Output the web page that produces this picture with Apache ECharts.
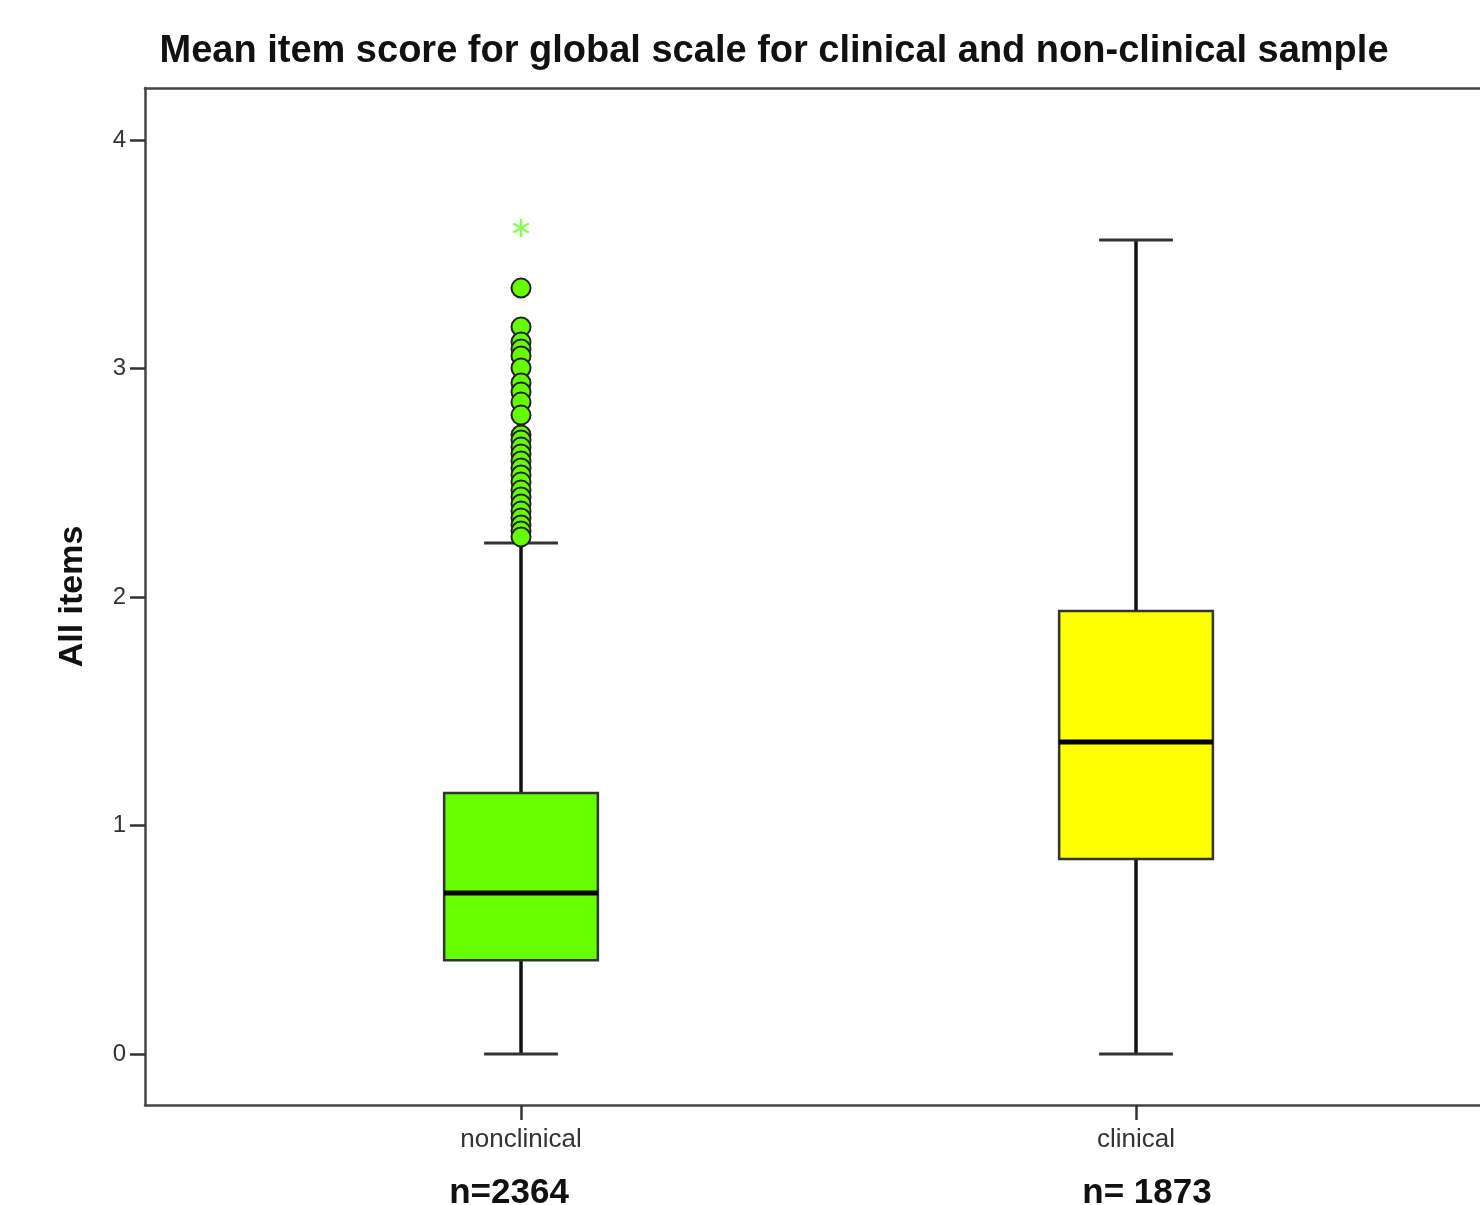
<!DOCTYPE html>
<html>
<head>
<meta charset="utf-8">
<script src="https://cdn.jsdelivr.net/npm/echarts@6/dist/echarts.min.js"></script>
<style>
  html, body { margin: 0; padding: 0; background: #ffffff; }
  #chart { width: 1480px; height: 1205px; }
</style>
</head>
<body>
<div id="chart"></div>
<script>
// ---- data ----
var categories = ['nonclinical', 'clinical'];
var sampleSizes = ['n=2364', 'n= 1873'];
// [min whisker, Q1, median, Q3, max whisker]
var boxNonclinical = [0, 0.41, 0.705, 1.142, 2.236];
var boxClinical = [0, 0.853, 1.365, 1.939, 3.562];
// outliers (circles) for nonclinical
var outliersNonclinical = [3.352, 3.182, 3.116, 3.085, 3.055, 3.002, 2.937, 2.897, 2.853, 2.796, 2.709,
  2.687, 2.656, 2.626, 2.595, 2.565, 2.534, 2.503, 2.468, 2.438, 2.407, 2.376, 2.346, 2.315, 2.289, 2.263];
// extreme values (stars) for nonclinical
var extremesNonclinical = [3.615];
var yTicks = [0, 1, 2, 3, 4];
var boxColors = ['#66ff00', '#ffff00'];

var boxData = [
  [1].concat(boxNonclinical),
  [2].concat(boxClinical)
];
var outlierData = outliersNonclinical.map(function (v) { return [1, v]; });
var extremeData = extremesNonclinical.map(function (v) { return [1, v]; });

var chart = echarts.init(document.getElementById('chart'), null, { renderer: 'canvas' });

function renderBox(params, api) {
  var x = api.value(0);
  var pMin = api.coord([x, api.value(1)]);
  var pQ1 = api.coord([x, api.value(2)]);
  var pMed = api.coord([x, api.value(3)]);
  var pQ3 = api.coord([x, api.value(4)]);
  var pMax = api.coord([x, api.value(5)]);
  var halfBox = api.size([0.25, 0])[0] / 2;
  var halfCap = api.size([0.12, 0])[0] / 2;
  var cx = pMed[0];
  var color = boxColors[params.dataIndex];
  return {
    type: 'group',
    children: [
      { type: 'line', shape: { x1: cx, y1: pMax[1], x2: cx, y2: pQ3[1] }, style: { stroke: '#111', lineWidth: 3.5 } },
      { type: 'line', shape: { x1: cx, y1: pMin[1], x2: cx, y2: pQ1[1] }, style: { stroke: '#111', lineWidth: 3.5 } },
      { type: 'line', shape: { x1: cx - halfCap, y1: pMax[1], x2: cx + halfCap, y2: pMax[1] }, style: { stroke: '#333', lineWidth: 3 } },
      { type: 'line', shape: { x1: cx - halfCap, y1: pMin[1], x2: cx + halfCap, y2: pMin[1] }, style: { stroke: '#333', lineWidth: 3 } },
      { type: 'rect', shape: { x: cx - halfBox, y: pQ3[1], width: halfBox * 2, height: pQ1[1] - pQ3[1] },
        style: { fill: color, stroke: '#333', lineWidth: 2.5 } },
      { type: 'line', shape: { x1: cx - halfBox, y1: pMed[1], x2: cx + halfBox, y2: pMed[1] }, style: { stroke: '#000', lineWidth: 5 } }
    ]
  };
}

function renderStar(params, api) {
  var p = api.coord([api.value(0), api.value(1)]);
  var r = 9;
  var children = [];
  for (var i = 0; i < 3; i++) {
    var a = Math.PI / 2 + i * Math.PI / 3;
    children.push({
      type: 'line',
      shape: { x1: p[0] - r * Math.cos(a), y1: p[1] - r * Math.sin(a), x2: p[0] + r * Math.cos(a), y2: p[1] + r * Math.sin(a) },
      style: { stroke: '#88ff55', lineWidth: 2.5 }
    });
  }
  return { type: 'group', children: children };
}

var xMin = 0.3886;
var xMax = 0.3886 + 1335 / 615;

var option = {
  backgroundColor: '#ffffff',
  animation: false,
  title: {
    text: 'Mean item score for global scale for clinical and non-clinical sample',
    left: 769,
    textAlign: 'center',
    top: 28,
    textStyle: { fontFamily: 'Liberation Sans', fontWeight: 'bold', fontSize: 38, color: '#111' }
  },
  grid: {
    left: 145, top: 88, right: 0, bottom: 100,
    containLabel: false,
    outerBoundsMode: 'none',
    show: false
  },
  xAxis: [{
    type: 'value',
    min: xMin,
    max: xMax,
    splitLine: { show: false },
    axisLine: { show: true, onZero: false, lineStyle: { color: '#444', width: 2.5 } },
    axisTick: { show: true, customValues: [1, 2], length: 15, lineStyle: { color: '#333', width: 2.5 } },
    axisLabel: {
      customValues: [1, 2],
      margin: 20,
      formatter: function (v) {
        var i = Math.round(v) - 1;
        return '{c|' + categories[i] + '}\n{n' + i + '|' + sampleSizes[i] + '}';
      },
      rich: {
        c: { fontFamily: 'Liberation Sans', fontSize: 26, color: '#333', lineHeight: 30 },
        n0: { fontFamily: 'Liberation Sans', fontSize: 35, fontWeight: 'bold', color: '#111', lineHeight: 76, padding: [0, 24, 0, 0] },
        n1: { fontFamily: 'Liberation Sans', fontSize: 35, fontWeight: 'bold', color: '#111', lineHeight: 76, padding: [0, 0, 0, 22] }
      }
    }
  }, {
    type: 'value',
    position: 'top',
    min: xMin,
    max: xMax,
    splitLine: { show: false },
    axisLine: { show: true, onZero: false, lineStyle: { color: '#444', width: 2.5 } },
    axisTick: { show: false },
    axisLabel: { show: false }
  }],
  yAxis: {
    type: 'value',
    min: -0.2232,
    max: 4.2276,
    name: 'All items',
    nameLocation: 'middle',
    nameGap: 55,
    nameTextStyle: { fontFamily: 'Liberation Sans', fontWeight: 'bold', fontSize: 34, color: '#111' },
    splitLine: { show: false },
    axisLine: { show: true, onZero: false, lineStyle: { color: '#444', width: 2.5 } },
    axisTick: { show: true, customValues: yTicks, length: 15, lineStyle: { color: '#333', width: 2.5 } },
    axisLabel: {
      customValues: yTicks,
      margin: 19,
      fontFamily: 'Liberation Sans', fontSize: 24, color: '#333'
    }
  },
  series: [
    {
      type: 'custom',
      renderItem: renderBox,
      data: boxData,
      encode: { x: 0, y: [1, 2, 3, 4, 5] },
      z: 2
    },
    {
      type: 'scatter',
      data: outlierData,
      symbol: 'circle',
      symbolSize: 19,
      itemStyle: { color: '#66ff00', borderColor: '#222', borderWidth: 2, opacity: 1 },
      z: 3
    },
    {
      type: 'custom',
      renderItem: renderStar,
      data: extremeData,
      encode: { x: 0, y: 1 },
      z: 3
    }
  ]
};
chart.setOption(option);
</script>
</body>
</html>
